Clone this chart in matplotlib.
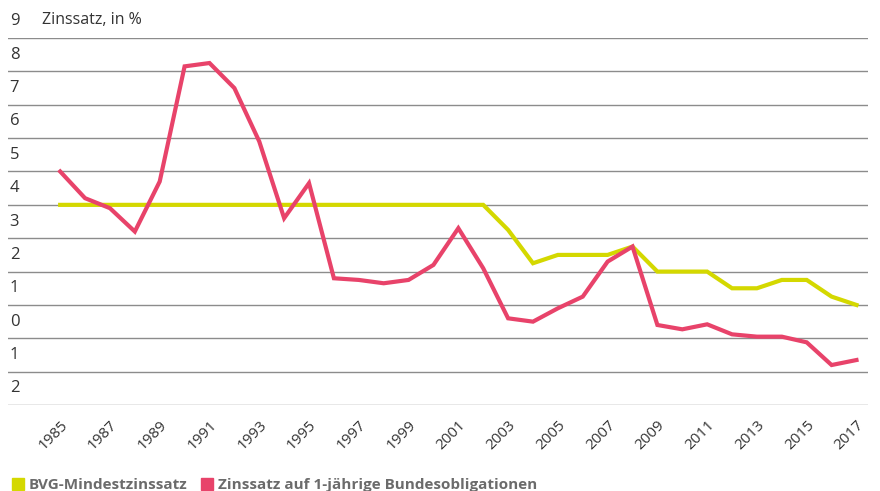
import matplotlib
matplotlib.use("Agg")
import matplotlib.pyplot as plt
from matplotlib.lines import Line2D

years = list(range(1985, 2018))

bvg_rate = [4.0, 4.0, 4.0, 4.0, 4.0, 4.0, 4.0, 4.0, 4.0, 4.0,
            4.0, 4.0, 4.0, 4.0, 4.0, 4.0, 4.0, 4.0, 3.25, 2.25,
            2.5, 2.5, 2.5, 2.75, 2.0, 2.0, 2.0, 1.5, 1.5, 1.75,
            1.75, 1.25, 1.0]

bond_rate = [5.0, 4.2, 3.9, 3.2, 4.7, 8.15, 8.25, 7.5, 5.9, 3.6,
             4.65, 1.8, 1.75, 1.65, 1.75, 2.2, 3.3, 2.1, 0.6, 0.5,
             0.9, 1.25, 2.3, 2.75, 0.4, 0.27, 0.42, 0.12, 0.05, 0.05,
             -0.12, -0.8, -0.65]

y_values = [9, 8, 7, 6, 5, 4, 3, 2, 1, 0, -1, -2]
y_labels = ["9", "8", "7", "6", "5", "4", "3", "2", "1", "0", "1", "2"]
x_ticks = list(range(1985, 2018, 2))

GREEN = "#d4d800"
RED = "#e8436a"
TEXT = "#333333"

plt.rcParams["font.family"] = ["Open Sans", "DejaVu Sans"]

fig = plt.figure(figsize=(8.8, 4.91), dpi=100)
ax = fig.add_axes([0.009, 0.175, 0.977, 0.7476])

for v, lab in zip(y_values, y_labels):
    ax.axhline(v, color="#8c8c8c", linewidth=1.0, zorder=1)
    ax.text(0.002, v + 0.5, lab, transform=ax.get_yaxis_transform(),
            ha="left", va="center", fontsize=12, color=TEXT)

ax.plot(years, bvg_rate, color=GREEN, linewidth=3.0, zorder=3, solid_joinstyle="miter")
ax.plot(years, bond_rate, color=RED, linewidth=3.0, zorder=4, solid_joinstyle="miter")

ax.set_xlim(1982.9, 2017.45)
ax.set_ylim(-2, 9)
ax.set_yticks([])
ax.set_xticks(x_ticks)
ax.set_xticklabels([str(x) for x in x_ticks], rotation=45, ha="right",
                   rotation_mode="anchor", fontsize=11, color=TEXT)
ax.tick_params(axis="x", length=0, pad=9)
for s in ax.spines.values():
    s.set_visible(False)

ax.text(0.04, 9.55, "Zinssatz, in %", transform=ax.get_yaxis_transform(),
        ha="left", va="center", fontsize=11.5, color=TEXT)

handles = [Line2D([], [], linestyle="none", marker="s", markersize=9, color=GREEN),
           Line2D([], [], linestyle="none", marker="s", markersize=9, color=RED)]
leg = fig.legend(handles, ["BVG-Mindestzinssatz", "Zinssatz auf 1-jährige Bundesobligationen"],
                 loc="lower left", bbox_to_anchor=(-0.004, -0.03), ncol=2, frameon=False,
                 handletextpad=0.2, columnspacing=0.8, handlelength=1.0,
                 prop={"size": 11, "weight": "bold"})
for t in leg.get_texts():
    t.set_color("#6b6b6b")

fig.savefig("out.png", dpi=100)
